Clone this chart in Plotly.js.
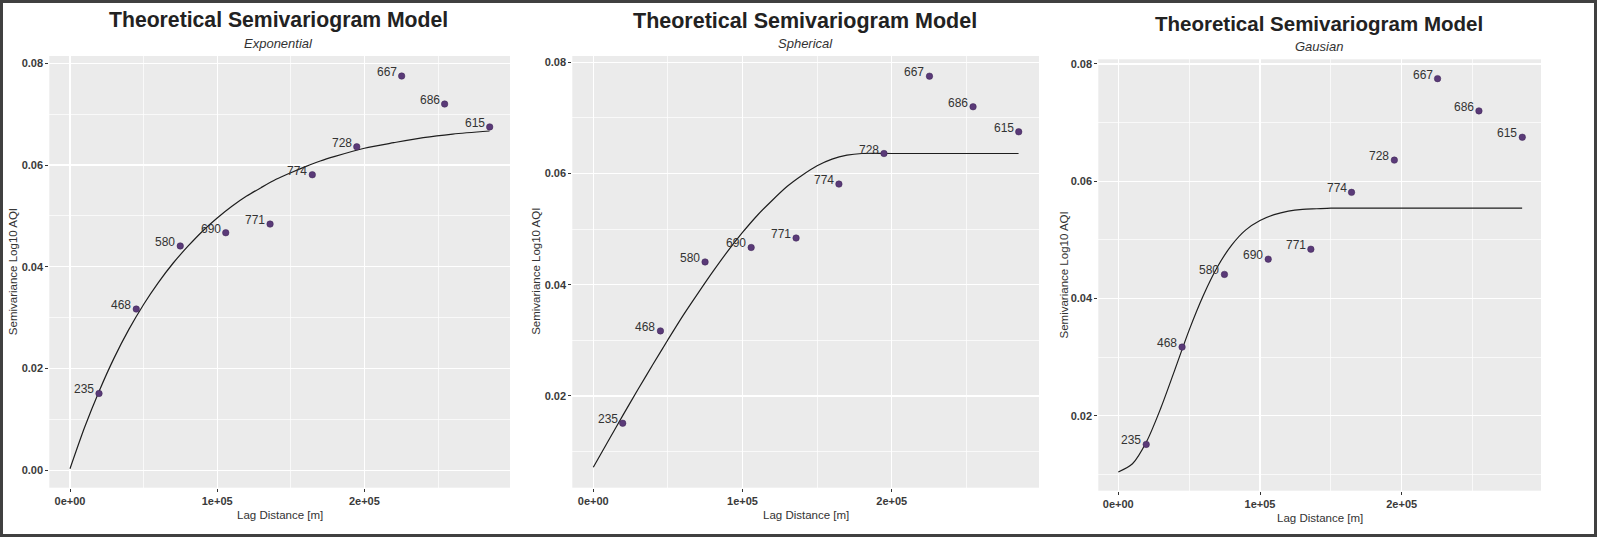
<!DOCTYPE html>
<html>
<head>
<meta charset="utf-8">
<script src="https://cdn.plot.ly/plotly-3.0.1.min.js"></script>
<style>html,body{margin:0;padding:0;background:#fff;}#chart{width:1600px;height:541px;}</style>
</head>
<body>
<div id="chart"></div>
<script>
// ---- empirical semivariogram (same in all three panels) ----
const lagDist = [19700, 45000, 74900, 105800, 135900, 164600, 194800, 225300, 254500, 285100];
const gammaVals = [0.0151, 0.0317, 0.0441, 0.0467, 0.0484, 0.0581, 0.0636, 0.0775, 0.0720, 0.0675];
const pairLabels = ['235', '468', '580', '690', '771', '774', '728', '667', '686', '615'];

// ---- fitted model curves ----
const modelX = [0, 10000, 20000, 30000, 40000, 50000, 60000, 70000, 80000, 90000, 100000, 110000,
  120000, 130000, 140000, 150000, 160000, 170000, 180000, 200000, 220000, 240000, 260000, 285000];
const expModel = [0.0003, 0.0085, 0.0157, 0.0221, 0.0277, 0.0326, 0.0369, 0.0407, 0.0440, 0.0470, 0.0496, 0.0519,
  0.0539, 0.0556, 0.0572, 0.0585, 0.0597, 0.0608, 0.0617, 0.0633, 0.0644, 0.0654, 0.0661, 0.0667];
const sphModel = [0.0072, 0.0119, 0.0166, 0.0212, 0.0257, 0.0301, 0.0344, 0.0384, 0.0423, 0.0460, 0.0494, 0.0525,
  0.0552, 0.0577, 0.0597, 0.0614, 0.0626, 0.0633, 0.0636, 0.0636, 0.0636, 0.0636, 0.0636, 0.0636];
const gauModel = [0.0104, 0.0118, 0.0156, 0.0213, 0.0279, 0.0346, 0.0405, 0.0454, 0.0491, 0.0517, 0.0533, 0.0543,
  0.0549, 0.0552, 0.0553, 0.0554, 0.0554, 0.0554, 0.0554, 0.0554, 0.0554, 0.0554, 0.0554, 0.0554];

const panelTitle = 'Theoretical Semivariogram Model';
const subtitles = ['Exponential', 'Spherical', 'Gausian'];
const xTickVals = [0, 100000, 200000];
const xTickText = ['0e+00', '1e+05', '2e+05'];
const xMinor = [50000, 150000, 250000];
const yTickVals = [0, 0.02, 0.04, 0.06, 0.08];
const yTickText = ['0.00', '0.02', '0.04', '0.06', '0.08'];
const yMinor = [0.01, 0.03, 0.05, 0.07];
const xTitle = 'Lag Distance [m]';
const yTitle = 'Semivariance Log10 AQI';

const W = 1600, H = 541;
const px = v => v / W;
const py = v => 1 - v / H;

// panel geometry in pixels: [left, right, top, bottom]
const panels = [
  {box: [49.3, 510, 56, 487.7], xr: [-14060, 298900], yr: [-0.00342, 0.08144], model: expModel,
   titleY: 20, subY: 43.3, cx: 278.5, ytX: 13.3, xtY: 515, fs: 21.2},
  {box: [572.3, 1039, 56, 487.7], xr: [-14075, 298700], yr: [0.00351, 0.08113], model: sphModel,
   titleY: 20.5, subY: 43.3, cx: 805, ytX: 536, xtY: 515, fs: 21.5},
  {box: [1098.3, 1541, 59.3, 490.7], xr: [-14114, 298300], yr: [0.0072, 0.0808], model: gauModel,
   titleY: 23.8, subY: 46.7, cx: 1318.5, ytX: 1063.5, xtY: 518, fs: 20.5}
];

const traces = [];
const annotations = [];
const layout = {
  width: W, height: H,
  margin: {l: 0, r: 0, t: 0, b: 0},
  paper_bgcolor: '#ffffff',
  plot_bgcolor: '#EBEBEB',
  showlegend: false,
  font: {family: 'Liberation Sans, Arial, sans-serif', color: '#333333'},
  annotations: annotations,
  shapes: [{
    type: 'rect', xref: 'paper', yref: 'paper',
    x0: px(1.5), x1: px(1595.5), y0: py(535.5), y1: py(1.5),
    line: {color: '#404040', width: 3}
  }]
};

panels.forEach((p, i) => {
  const n = i === 0 ? '' : String(i + 1);
  const xa = 'x' + n, ya = 'y' + n;
  const [l, r, t, b] = p.box;
  layout['xaxis' + n] = {
    domain: [px(l), px(r)], anchor: ya, range: p.xr,
    tickmode: 'array', tickvals: xTickVals, ticktext: xTickText,
    ticks: 'outside', ticklen: 3, tickcolor: '#333333', tickwidth: 1,
    tickfont: {size: 11, color: '#3a3a3a', family: 'Liberation Sans, Arial, sans-serif', weight: 'bold'},
    showgrid: true, gridcolor: '#ffffff', gridwidth: 1.3,
    minor: {tickmode: 'array', tickvals: xMinor, showgrid: true, gridcolor: '#ffffff', gridwidth: 0.7, ticks: ''},
    zeroline: false, showline: false, fixedrange: true
  };
  layout['yaxis' + n] = {
    domain: [py(b), py(t)], anchor: xa, range: p.yr,
    tickmode: 'array', tickvals: yTickVals, ticktext: yTickText,
    ticks: 'outside', ticklen: 3, tickcolor: '#333333', tickwidth: 1,
    tickfont: {size: 11, color: '#3a3a3a', family: 'Liberation Sans, Arial, sans-serif', weight: 'bold'},
    showgrid: true, gridcolor: '#ffffff', gridwidth: 1.3,
    minor: {tickmode: 'array', tickvals: yMinor, showgrid: true, gridcolor: '#ffffff', gridwidth: 0.7, ticks: ''},
    zeroline: false, showline: false, fixedrange: true
  };

  traces.push({
    type: 'scatter', mode: 'lines', x: modelX, y: p.model, xaxis: xa, yaxis: ya,
    line: {color: '#1e1e1e', width: 1.2, shape: 'spline', smoothing: 0.8}, hoverinfo: 'skip'
  });
  traces.push({
    type: 'scatter', mode: 'markers', x: lagDist, y: gammaVals, xaxis: xa, yaxis: ya,
    marker: {color: '#5A3A78', size: 6.5, line: {color: '#3d2454', width: 0.5}}
  });

  lagDist.forEach((d, k) => {
    annotations.push({
      xref: xa, yref: ya, x: d, y: gammaVals[k], text: pairLabels[k], showarrow: false,
      xanchor: 'right', yanchor: 'middle', xshift: -3, yshift: 4,
      font: {size: 12, color: '#333333', family: 'Liberation Sans, Arial, sans-serif'}
    });
  });

  annotations.push({
    xref: 'paper', yref: 'paper', x: px(p.cx), y: py(p.titleY), xanchor: 'center', yanchor: 'middle',
    text: '<b>' + panelTitle + '</b>', showarrow: false,
    font: {size: p.fs, color: '#222222', family: 'Liberation Sans, Arial, sans-serif'}
  });
  annotations.push({
    xref: 'paper', yref: 'paper', x: px(p.cx), y: py(p.subY), xanchor: 'center', yanchor: 'middle',
    text: '<i>' + subtitles[i] + '</i>', showarrow: false,
    font: {size: 13, color: '#333333', family: 'Liberation Sans, Arial, sans-serif'}
  });
  annotations.push({
    xref: 'paper', yref: 'paper', x: px((l + r) / 2), y: py(p.xtY), xanchor: 'center', yanchor: 'middle',
    text: xTitle, showarrow: false,
    font: {size: 11.5, color: '#333333', family: 'Liberation Sans, Arial, sans-serif'}
  });
  annotations.push({
    xref: 'paper', yref: 'paper', x: px(p.ytX), y: py((t + b) / 2), xanchor: 'center', yanchor: 'middle',
    text: yTitle, textangle: -90, showarrow: false,
    font: {size: 11.5, color: '#333333', family: 'Liberation Sans, Arial, sans-serif'}
  });
});

Plotly.newPlot('chart', traces, layout, {staticPlot: true, displayModeBar: false});
</script>
</body>
</html>
